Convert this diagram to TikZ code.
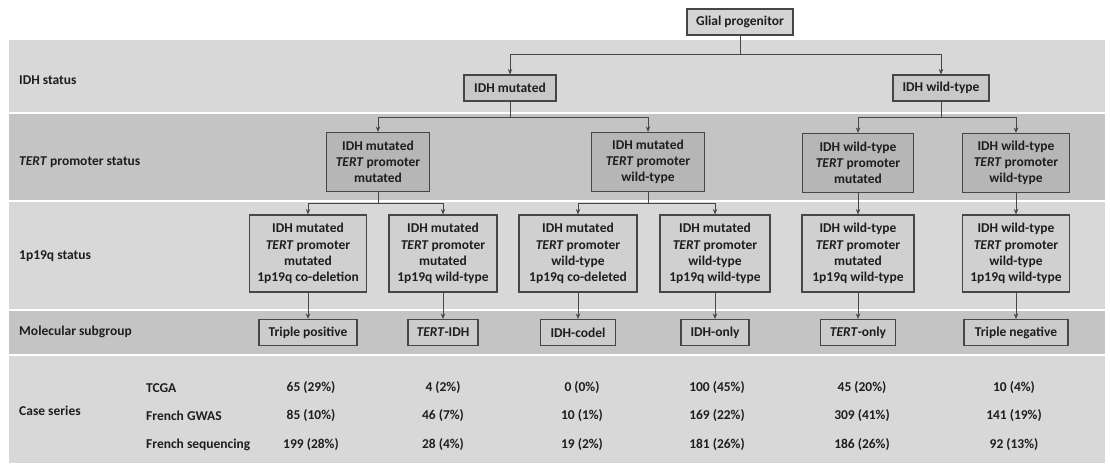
\documentclass[tikz,border=0pt]{standalone}
\usepackage{fontspec}
\setmainfont{Carlito}
\usetikzlibrary{arrows.meta}
\definecolor{bandA}{RGB}{216,216,216}
\definecolor{bandB}{RGB}{196,196,196}
\definecolor{boxline}{RGB}{70,70,70}
\definecolor{txt}{RGB}{30,30,30}
\definecolor{fillone}{RGB}{200,200,200}
\definecolor{filltwo}{RGB}{182,182,182}
\definecolor{fillthree}{RGB}{208,208,208}
\definecolor{fillsub}{RGB}{204,204,204}
\definecolor{fillgp}{RGB}{212,212,212}
\begin{document}
\begin{tikzpicture}[x=1pt,y=-1pt,
  fnt/.style={font=\fontsize{13.5}{16.3}\selectfont\bfseries, text=txt},
  box/.style={fnt, draw=boxline, line width=1.1pt, align=center, inner sep=0pt},
  lvlone/.style={box, fill=fillone, minimum height=26pt},
  lvltwo/.style={box, fill=filltwo, minimum height=59pt},
  lvlthree/.style={box, fill=fillthree, minimum height=77pt},
  subbox/.style={box, fill=fillsub, minimum height=26pt},
  rowlabel/.style={fnt, anchor=west, inner sep=0pt},
  datum/.style={fnt, inner sep=0pt},
  conn/.style={draw=boxline, line width=1pt},
  arr/.style={conn, -{Stealth[length=5.5pt,width=4.5pt]}}
]
\useasboundingbox (0,0) rectangle (1110,463);
\fill[white] (0,0) rectangle (1110,463);
% bands
\fill[bandA] (9,40) rectangle (1105,112);
\fill[bandB] (9,114) rectangle (1105,200);
\fill[bandA] (9,202) rectangle (1105,309);
\fill[bandB] (9,311) rectangle (1105,354);
\fill[bandA] (9,356) rectangle (1105,463);
% row labels
\node[rowlabel] (lab1) at (19,80) {IDH status};
\node[rowlabel] (lab2) at (19,162) {\textit{TERT} promoter status};
\node[rowlabel] (lab3) at (19,256) {1p19q status};
\node[rowlabel] (lab4) at (19,332) {Molecular subgroup};
\node[rowlabel] (lab5) at (19,411) {Case series};
\node[rowlabel] (src1) at (146,388) {TCGA};
\node[rowlabel] (src2) at (146,416) {French GWAS};
\node[rowlabel] (src3) at (146,445) {French sequencing};
% tree
\node[box, fill=fillgp, minimum width=106pt, minimum height=26pt] (gp) at (740,22) {Glial progenitor};
\node[lvlone, minimum width=92pt] (idhm) at (510,88) {IDH mutated};
\node[lvlone, minimum width=96pt] (idhw) at (941,88) {IDH wild-type};
\node[lvltwo, minimum width=103pt] (ta) at (378,162) {IDH mutated\\\textit{TERT} promoter\\mutated};
\node[lvltwo, minimum width=113pt] (tb) at (648,162) {IDH mutated\\\textit{TERT} promoter\\wild-type};
\node[lvltwo, minimum width=111pt] (tc) at (858,163) {IDH wild-type\\\textit{TERT} promoter\\mutated};
\node[lvltwo, minimum width=107pt] (td) at (1016,163) {IDH wild-type\\\textit{TERT} promoter\\wild-type};
\node[lvlthree, minimum width=117pt] (pa) at (308,253.5) {IDH mutated\\\textit{TERT} promoter\\mutated\\1p19q co-deletion};
\node[lvlthree, minimum width=108pt] (pb) at (443,253.5) {IDH mutated\\\textit{TERT} promoter\\mutated\\1p19q wild-type};
\node[lvlthree, minimum width=118pt] (pc) at (578,253.5) {IDH mutated\\\textit{TERT} promoter\\wild-type\\1p19q co-deleted};
\node[lvlthree, minimum width=110pt] (pd) at (715,253.5) {IDH mutated\\\textit{TERT} promoter\\wild-type\\1p19q wild-type};
\node[lvlthree, minimum width=112pt] (pe) at (858,253.5) {IDH wild-type\\\textit{TERT} promoter\\mutated\\1p19q wild-type};
\node[lvlthree, minimum width=107pt] (pf) at (1016,253.5) {IDH wild-type\\\textit{TERT} promoter\\wild-type\\1p19q wild-type};
\node[subbox, minimum width=98pt] (sa) at (308,332.5) {Triple positive};
\node[subbox, minimum width=70pt] (sb) at (443,332.5) {\textit{TERT}-IDH};
\node[subbox, minimum width=75pt] (sc) at (578,332.5) {IDH-codel};
\node[subbox, minimum width=68pt] (sd) at (715,332.5) {IDH-only};
\node[subbox, minimum width=75pt] (se) at (858,332.5) {\textit{TERT}-only};
\node[subbox, minimum width=104pt] (sf) at (1016,332.5) {Triple negative};
% junctions
\coordinate (j0) at (740,54);
\coordinate (j1) at (510,117);
\coordinate (j2) at (941,117);
\coordinate (j3) at (378,203);
\coordinate (j4) at (648,203);
% connectors
\draw[conn] (gp.south) -- (j0);
\draw[arr] (j0) -| (idhm.north);
\draw[arr] (j0) -| (idhw.north);
\draw[conn] (idhm.south) -- (j1);
\draw[arr] (j1) -| (ta.north);
\draw[arr] (j1) -| (tb.north);
\draw[conn] (idhw.south) -- (j2);
\draw[arr] (j2) -| (tc.north);
\draw[arr] (j2) -| (td.north);
\draw[conn] (ta.south) -- (j3);
\draw[arr] (j3) -| (pa.north);
\draw[arr] (j3) -| (pb.north);
\draw[conn] (tb.south) -- (j4);
\draw[arr] (j4) -| (pc.north);
\draw[arr] (j4) -| (pd.north);
\draw[arr] (tc.south) -- (pe.north);
\draw[arr] (td.south) -- (pf.north);
\draw[arr] (pa.south) -- (sa.north);
\draw[arr] (pb.south) -- (sb.north);
\draw[arr] (pc.south) -- (sc.north);
\draw[arr] (pd.south) -- (sd.north);
\draw[arr] (pe.south) -- (se.north);
\draw[arr] (pf.south) -- (sf.north);
% data
\foreach \y/\r/\a/\b/\c/\d/\e/\f in {388/1/65 (29\%)/4 (2\%)/0 (0\%)/100 (45\%)/45 (20\%)/10 (4\%),
  416/2/85 (10\%)/46 (7\%)/10 (1\%)/169 (22\%)/309 (41\%)/141 (19\%),
  445/3/199 (28\%)/28 (4\%)/19 (2\%)/181 (26\%)/186 (26\%)/92 (13\%)}{
  \node[datum] (d\r a) at (311,\y) {\a};
  \node[datum] (d\r b) at (443,\y) {\b};
  \node[datum] (d\r c) at (582,\y) {\c};
  \node[datum] (d\r d) at (717,\y) {\d};
  \node[datum] (d\r e) at (862,\y) {\e};
  \node[datum] (d\r f) at (1014,\y) {\f};
}
\end{tikzpicture}
\end{document}
